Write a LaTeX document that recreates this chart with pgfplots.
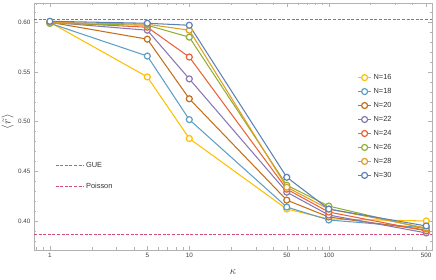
\documentclass[border=0pt]{standalone}
\usepackage{pgfplots}
\pgfplotsset{compat=1.18}
\usepackage{fontspec}
\setmainfont{Liberation Sans}
\definecolor{c16}{rgb}{1,0.75,0}
\definecolor{c18}{rgb}{0.363898,0.618501,0.782349}
\definecolor{c20}{rgb}{0.772079,0.431554,0.102387}
\definecolor{c22}{rgb}{0.528488,0.470624,0.701351}
\definecolor{c24}{rgb}{0.922526,0.385626,0.209179}
\definecolor{c26}{rgb}{0.560181,0.691569,0.194885}
\definecolor{c28}{rgb}{0.880722,0.611041,0.142051}
\definecolor{c30}{rgb}{0.368417,0.506779,0.709798}
\definecolor{gueC}{RGB}{40,175,90}
\definecolor{colPOI}{rgb}{0.82,0.30,0.48}
\begin{document}
\begin{tikzpicture}
\useasboundingbox (-34pt,-30pt) rectangle (402pt,250pt);
\begin{axis}[
  scale only axis, width=398pt, height=247pt,
  xmode=log, xmin=0.77, xmax=550, ymin=0.3708, ymax=0.6194,
  at={(0,0)}, anchor=south west,
  axis line style={gray!60, line width=0.6pt},
  tick style={gray!60, line width=0.5pt},
  major tick length=4pt, minor tick length=2.5pt,
  xtick={1,5,10,50,100,500}, xticklabels={1,5,10,50,100,500},
  minor xtick={0.8,0.9,2,3,4,6,7,8,9,20,30,40,60,70,80,90,200,300,400},
  ytick={0.40,0.45,0.50,0.55,0.60},
  minor ytick={0.38,0.39,0.41,0.42,0.43,0.44,0.46,0.47,0.48,0.49,0.51,0.52,0.53,0.54,0.56,0.57,0.58,0.59,0.61},
  yticklabel style={/pgf/number format/fixed, /pgf/number format/precision=2, /pgf/number format/fixed zerofill},
  /pgf/number format/assume math mode=true,
  tick label style={font=\fontsize{6.3}{7}\selectfont, text=black!75},
  xlabel={$\kappa$}, ylabel={$\langle\tilde r\rangle$},
  xlabel style={font=\fontsize{11}{12}\selectfont, text=black!80, yshift=-5pt},
  ylabel style={font=\fontsize{12}{13}\selectfont, text=black!80, at={(axis description cs:-0.066,0.52)}, anchor=center},
  legend style={at={(axis description cs:0.045,0.30)}, anchor=west, draw=none, fill=none,
    font=\fontsize{7.4}{8}\selectfont, text=black!80, row sep=10pt},
  legend cell align=left,
  legend image code/.code={\draw[#1] (0pt,0pt) -- (28pt,0pt);},
]
\addlegendimage{gueC, line width=1pt, dash pattern=on 3pt off 1.6pt}
\addlegendentry{GUE}
\addlegendimage{colPOI, line width=1pt, dash pattern=on 3pt off 1.6pt}
\addlegendentry{Poisson}
\addplot[colPOI, line width=1pt, dash pattern=on 3pt off 1.6pt, forget plot] coordinates {(0.77,0.3863) (550,0.3863)};
\addplot[gueC, line width=1pt, dash pattern=on 3pt off 1.6pt, forget plot] coordinates {(0.77,0.6027) (550,0.6027)};
\end{axis}
\begin{axis}[
  scale only axis, width=398pt, height=247pt,
  xmode=log, xmin=0.77, xmax=550, ymin=0.3708, ymax=0.6194,
  at={(0,0)}, anchor=south west,
  hide axis,
  legend style={at={(axis description cs:0.805,0.50)}, anchor=west, draw=none, fill=none,
    font=\fontsize{7.4}{8}\selectfont, text=black!80, row sep=3.3pt},
  legend cell align=left,
  legend image code/.code={\draw[mark repeat=2,mark phase=2,#1] plot coordinates {(0pt,0pt) (6.5pt,0pt) (13pt,0pt)};},
]
\pgfplotsset{/tikz/sty/.style={line width=1.05pt, mark=*, mark size=3pt, mark options={fill=white, line width=1.2pt}}}
\addplot[c16, sty] coordinates {(1,0.600) (5,0.545) (10,0.483) (50,0.412) (100,0.402) (500,0.400)};
\addlegendentry{N=16}
\addplot[c18, sty] coordinates {(1,0.599) (5,0.566) (10,0.502) (50,0.414) (100,0.401) (500,0.393)};
\addlegendentry{N=18}
\addplot[c20, sty] coordinates {(1,0.600) (5,0.583) (10,0.523) (50,0.421) (100,0.404) (500,0.391)};
\addlegendentry{N=20}
\addplot[c22, sty] coordinates {(1,0.600) (5,0.592) (10,0.543) (50,0.429) (100,0.406) (500,0.388)};
\addlegendentry{N=22}
\addplot[c24, sty] coordinates {(1,0.600) (5,0.595) (10,0.565) (50,0.432) (100,0.409) (500,0.390)};
\addlegendentry{N=24}
\addplot[c26, sty] coordinates {(1,0.599) (5,0.597) (10,0.585) (50,0.436) (100,0.415) (500,0.392)};
\addlegendentry{N=26}
\addplot[c28, sty] coordinates {(1,0.600) (5,0.598) (10,0.592) (50,0.434) (100,0.412) (500,0.393)};
\addlegendentry{N=28}
\addplot[c30, sty] coordinates {(1,0.601) (5,0.599) (10,0.597) (50,0.444) (100,0.412) (500,0.395)};
\addlegendentry{N=30}
\end{axis}
\end{tikzpicture}
\end{document}
